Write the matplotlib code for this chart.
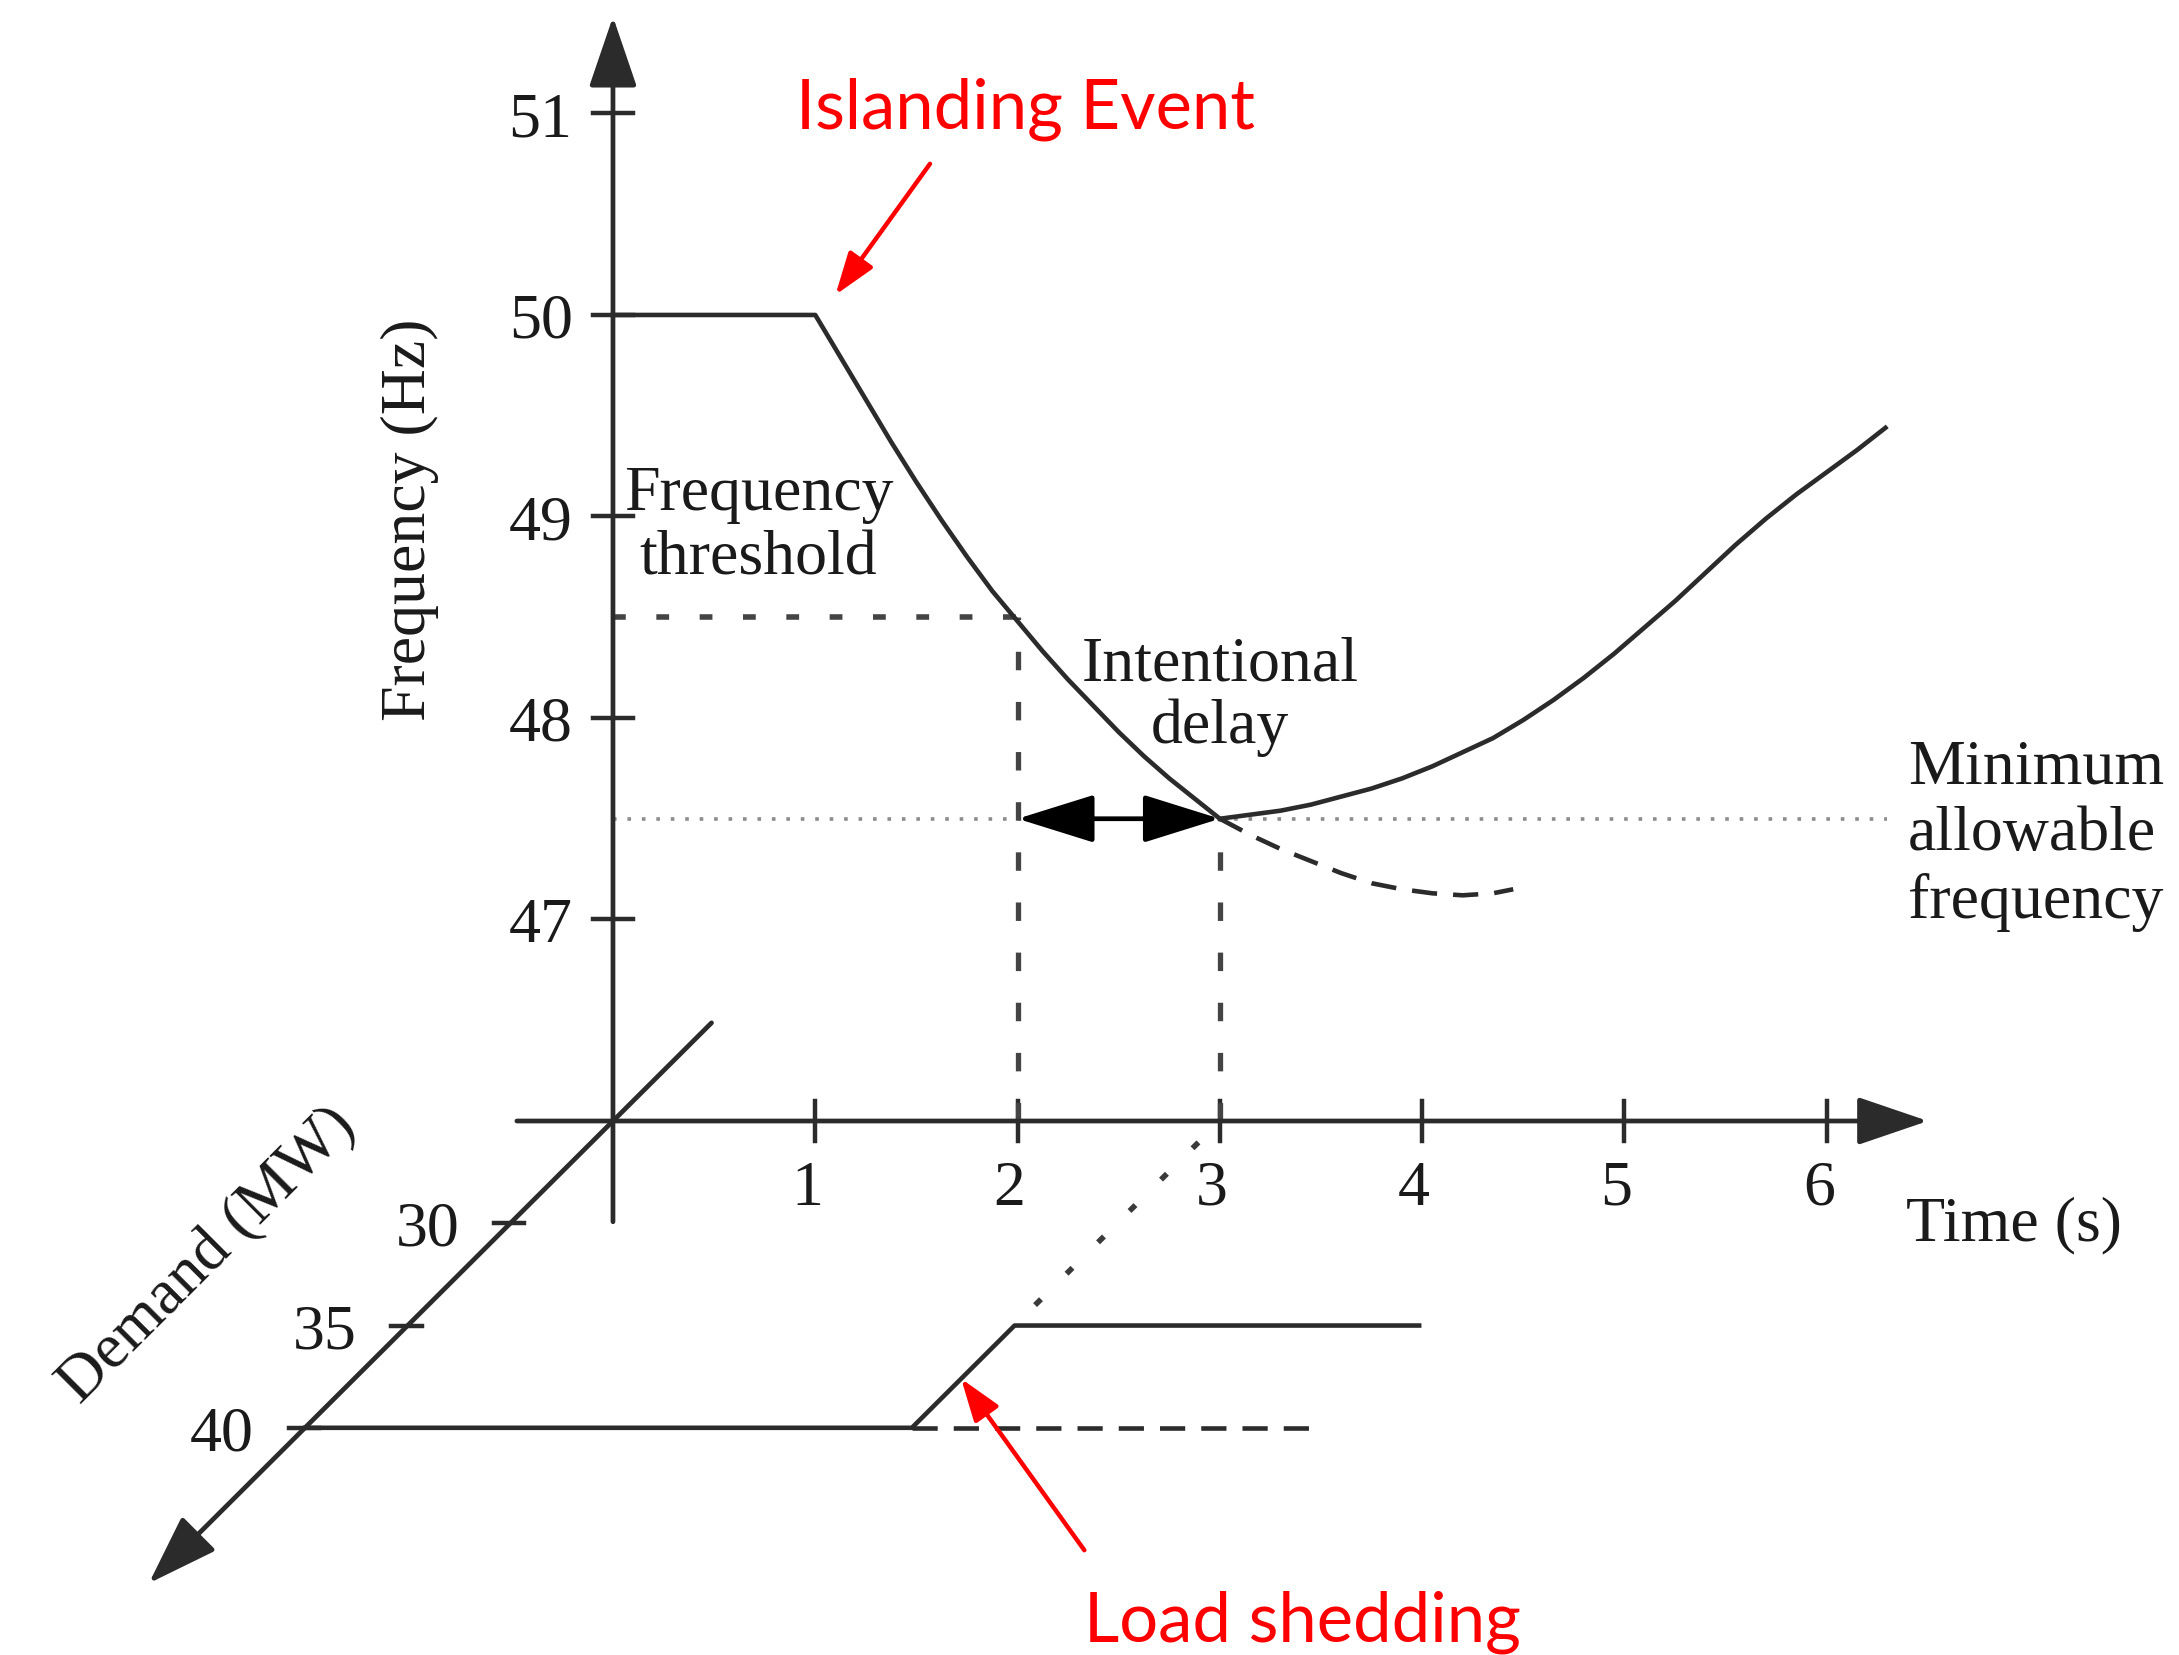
import numpy as np
import matplotlib.pyplot as plt

# frequency response
t_drop = [0, 1, 1.125, 1.25, 1.375, 1.5, 1.625, 1.75, 1.875, 2.0, 2.125, 2.25, 2.375, 2.5, 2.625, 2.75, 2.875, 3.0]
f_drop = [50, 50, 49.79, 49.58, 49.37, 49.17, 48.98, 48.8, 48.63, 48.48, 48.33, 48.19, 48.06, 47.93, 47.81, 47.7, 47.6, 47.5]

t_recover = [3.0, 3.15, 3.3, 3.45, 3.6, 3.75, 3.9, 4.05, 4.2, 4.35, 4.5, 4.65, 4.8, 4.95, 5.1, 5.25,
             5.4, 5.55, 5.7, 5.85, 6.0, 6.15, 6.29]
f_recover = [47.5, 47.52, 47.54, 47.57, 47.61, 47.65, 47.7, 47.76, 47.83, 47.9, 47.99, 48.09, 48.2, 48.32,
             48.45, 48.58, 48.72, 48.86, 48.99, 49.11, 49.22, 49.33, 49.44]

t_no_shed = [3.0, 3.15, 3.3, 3.45, 3.6, 3.75, 3.9, 4.05, 4.2, 4.35, 4.45]
f_no_shed = [47.5, 47.42, 47.35, 47.29, 47.23, 47.18, 47.15, 47.13, 47.12, 47.13, 47.15]

f_threshold = 48.5
f_min = 47.5
t_threshold = 2.0
t_shed = 3.0

# demand (MW)
t_demand = [0, 3, 3, 5]
d_demand = [40, 40, 35, 35]
t_demand_no_shed = [3, 5]
d_demand_no_shed = [40, 40]

freq_ticks = [47, 48, 49, 50, 51]
time_ticks = [1, 2, 3, 4, 5, 6]
demand_ticks = [30, 35, 40]

# demand axis drawn as an oblique axis through the origin
k = 0.1015
d_ref = 25
f0 = 46


def proj(t, d):
    t = np.asarray(t, dtype=float)
    d = np.asarray(d, dtype=float)
    return t - k * (d - d_ref), f0 - k * (d - d_ref)


ink = "#2b2b2b"
txt = "#1a1a1a"
serif = "Liberation Serif"
fs = 46

fig = plt.figure(figsize=(21.79, 16.56), dpi=100)
ax = fig.add_axes([0, 0, 1, 1])
ax.set_xlim(-3.03, 7.741)
ax.set_ylim(43.35, 51.568)
ax.axis("off")


def arrow(start, end, hl=2.2, hw=0.75, lw=3.4, color=ink, style="-|>"):
    ax.annotate("", xy=(float(end[0]), float(end[1])), xytext=(float(start[0]), float(start[1])),
                arrowprops=dict(arrowstyle=f"{style},head_length={hl},head_width={hw}",
                                mutation_scale=20, lw=lw, color=color,
                                shrinkA=0, shrinkB=0), annotation_clip=False)


# axes
arrow((0, 45.5), (0, 51.48))
arrow((-0.475, f0), (6.5, f0))
arrow(proj(0, 20.2), proj(0, 47.6))

for f in freq_ticks:
    ax.plot([-0.1, 0.1], [f, f], color=ink, lw=3.2)
    ax.text(-0.2, f - 0.107, str(f), ha="right", va="baseline", fontsize=fs, family=serif, color=txt)
for t in time_ticks:
    ax.plot([t, t], [f0 - 0.1, f0 + 0.1], color=ink, lw=3.2)
    ax.text(t - 0.04, 45.59, str(t), ha="center", va="baseline", fontsize=fs, family=serif, color=txt)
for d in demand_ticks:
    x, y = proj(0, d)
    ax.plot([x - 0.08, x + 0.07], [y, y], color=ink, lw=3.2)
    ax.text(x - 0.41, y - 0.107, str(d), ha="center", va="baseline", fontsize=fs, family=serif, color=txt)

# guide lines
ax.plot([0, 6.3], [f_min, f_min], color="#8c8c8c", lw=2.6, linestyle=(0, (1, 3)))
ax.plot([0, t_threshold], [f_threshold, f_threshold], color="#444", lw=4, linestyle=(0, (2.3, 5.5)))
ax.plot([t_threshold, t_threshold], [f0, f_threshold], color="#444", lw=3.8, linestyle=(0, (3.5, 6)))
ax.plot([t_shed, t_shed], [f0, f_min], color="#444", lw=3.8, linestyle=(0, (3.5, 6)))

# frequency curves
ax.plot(t_drop, f_drop, color=ink, lw=3.3, solid_joinstyle="round")
ax.plot(t_recover, f_recover, color=ink, lw=3.3, solid_joinstyle="round")
ax.plot(t_no_shed, f_no_shed, color=ink, lw=3.3, linestyle=(0, (5.5, 3.5)))

# intentional delay arrow
ax.annotate("", xy=(t_threshold, f_min), xytext=(t_shed, f_min),
            arrowprops=dict(arrowstyle="<|-|>,head_length=2.4,head_width=0.75", mutation_scale=20,
                            lw=3.4, color="black", shrinkA=0, shrinkB=0))

# demand curves
x, y = proj(t_demand, d_demand)
ax.plot(x, y, color=ink, lw=3.3)
x, y = proj(t_demand_no_shed, d_demand_no_shed)
ax.plot(x, y, color=ink, lw=3.3, linestyle=(0, (5.5, 3.5)))
x, y = proj([t_shed, t_shed], [34, 26])
ax.plot(x, y, color="#3a3a3a", lw=4, linestyle=(0, (1.5, 6.5)))

# labels (baseline of the last line)
ax.text(0.72, 48.715, "Frequency\nthreshold", ha="center", va="baseline", fontsize=fs, family=serif,
        color=txt, linespacing=1.15)
ax.text(3.0, 47.88, "Intentional\ndelay", ha="center", va="baseline", fontsize=fs, family=serif,
        color=txt, linespacing=1.1)
ax.text(6.4, 47.01, "Minimum\nallowable\nfrequency", ha="left", va="baseline", fontsize=fs, family=serif,
        color=txt, linespacing=1.2)
ax.text(6.39, 45.414, "Time (s)", ha="left", va="baseline", fontsize=fs, family=serif, color=txt)
ax.text(-1.003, 48.99, "Frequency (Hz)", ha="center", va="center", rotation=90, fontsize=fs,
        family=serif, color=txt)
ax.text(-2.0, 45.335, "Demand (MW)", ha="center", va="center", rotation=45, fontsize=fs,
        family=serif, color=txt)

# red annotations
red = "#ff0000"
ax.text(2.04, 50.93, "Islanding Event", ha="center", va="baseline", fontsize=49.5, family="Lato", color=red)
arrow((1.567, 50.75), (t_drop[1] + 0.1, f_drop[1] + 0.1), hl=1.3, hw=0.45, lw=3.2, color=red)
ax.text(3.41, 43.42, "Load shedding", ha="center", va="baseline", fontsize=49.5, family="Lato", color=red)
arrow((2.33, 43.87), proj(t_shed, 37.6), hl=1.3, hw=0.45, lw=3.2, color=red)

fig.savefig("out.png", dpi=100, facecolor="white")
